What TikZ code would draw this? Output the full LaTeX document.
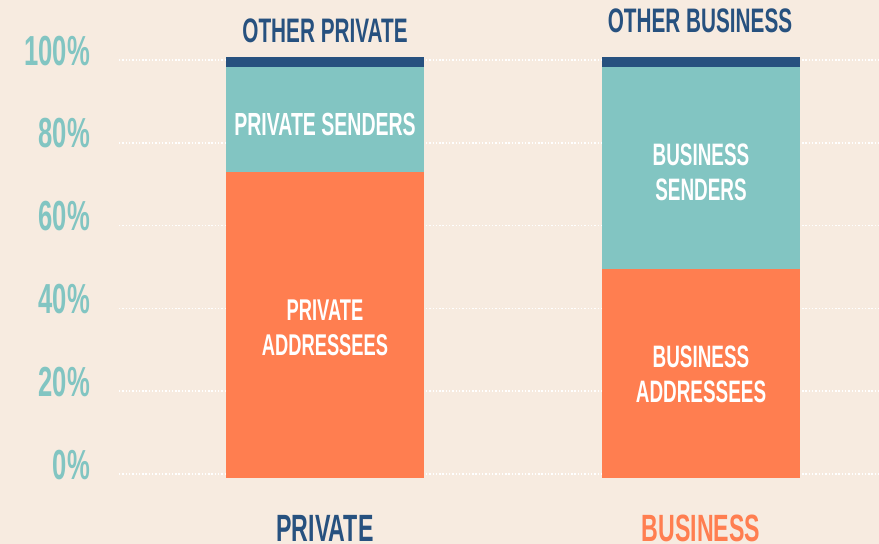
\documentclass[tikz,border=0pt]{standalone}
\usepackage{fontspec}
\newfontfamily\bb[FakeStretch=0.61]{Liberation Sans Bold}
\definecolor{bgc}{HTML}{F7EBE0}
\definecolor{tealc}{HTML}{82C5C2}
\definecolor{orangec}{HTML}{FF7E50}
\definecolor{navyc}{HTML}{27517F}
\tikzset{
  grid line/.style={white, line width=1.6pt, dash pattern=on 1.4pt off 1.9pt},
  axislabel/.style={anchor=base east, inner sep=0pt, text=tealc, font=\bb\fontsize{42}{46}\selectfont},
  barlabel/.style={anchor=base, inner sep=0pt, text=white},
  toplabel/.style={anchor=base, inner sep=0pt, text=navyc, font=\bb\fontsize{34}{38}\selectfont},
  catlabel/.style={anchor=base, inner sep=0pt, font=\bb\fontsize{38}{42}\selectfont},
}
\begin{document}
\begin{tikzpicture}[x=1pt,y=-1pt]
\fill[bgc] (0,0) rectangle (879,544);
\clip (0,0) rectangle (879,544);
\useasboundingbox (0,0) rectangle (879,544);
% grid lines and axis labels
\foreach \v/\y in {0/474,20/391.2,40/308.4,60/225.6,80/142.8,100/60}{
  \coordinate (gl\v) at (119,\y);
  \coordinate (gr\v) at (879,\y);
  \draw[grid line] (gl\v) -- (gr\v);
  \node[axislabel] (ax\v) at (90,\y+5) {\v\%};
}
% private bar
\fill[orangec] (226,171) rectangle (424,478);
\fill[tealc] (226,66) rectangle (424,171.5);
\fill[navyc] (226,57) rectangle (424,66.5);
% business bar
\fill[orangec] (602,268) rectangle (800,478);
\fill[tealc] (602,66) rectangle (800,268.5);
\fill[navyc] (602,57) rectangle (800,66.5);
% bar labels
\node[barlabel, font=\bb\fontsize{32}{36}\selectfont] (ps) at (325,135) {PRIVATE SENDERS};
\node[barlabel, font=\bb\fontsize{30}{34}\selectfont] (pa1) at (325,320) {PRIVATE};
\node[barlabel, font=\bb\fontsize{30}{34}\selectfont] (pa2) at (325,355.5) {ADDRESSEES};
\node[barlabel, font=\bb\fontsize{31}{35}\selectfont] (bs1) at (701,165) {BUSINESS};
\node[barlabel, font=\bb\fontsize{31}{35}\selectfont] (bs2) at (701,200) {SENDERS};
\node[barlabel, font=\bb\fontsize{31}{35}\selectfont] (ba1) at (701,367) {BUSINESS};
\node[barlabel, font=\bb\fontsize{31}{35}\selectfont] (ba2) at (701,402.5) {ADDRESSEES};
% top labels
\node[toplabel] (op) at (325,42) {OTHER PRIVATE};
\node[toplabel] (ob) at (700,32) {OTHER BUSINESS};
% category labels
\node[catlabel, text=navyc] (cp) at (325,541) {PRIVATE};
\node[catlabel, text=orangec] (cb) at (701,541) {BUSINESS};
\end{tikzpicture}
\end{document}
